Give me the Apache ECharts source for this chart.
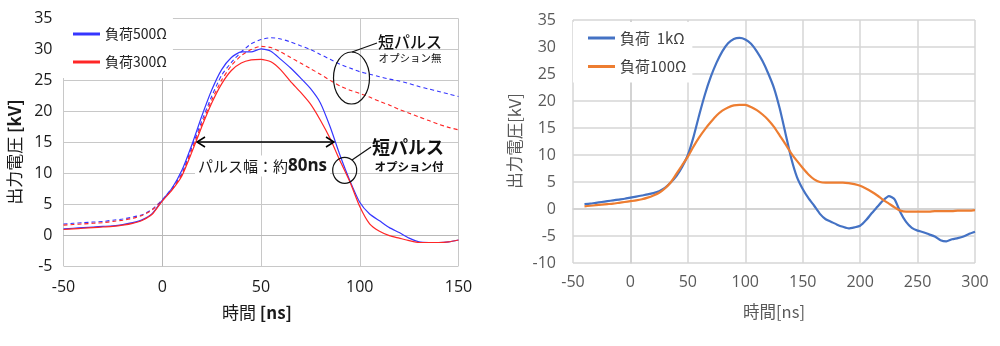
<!DOCTYPE html>
<html><head><meta charset="utf-8">
<script src="https://cdn.jsdelivr.net/npm/echarts@6/dist/echarts.min.js"></script>
<style>html,body{margin:0;padding:0;background:#fff}#c{width:1000px;height:346px}</style>
</head><body><div id="c"></div>
<script>
// ---------- Left chart data ----------
const leftTime = [-50,-45,-40,-35,-30,-25,-20,-15,-10,-5,0,5,10,15,20,25,30,35,40,45,50,55,60,65,70,75,80,85,90,95,100,105,110,115,120,125,130,135,140,145,150];
const load500On  = [1.0,1.1,1.2,1.3,1.4,1.5,1.7,2.0,2.5,3.5, 5.6,7.6,10.5,14.6,19.2,23.4,26.7,28.7,29.6,29.6, 30.1,29.7,28.4,27.0,25.4,23.7,21.4,17.5,12.9,8.8, 5.3,3.4,2.3,1.2,0.4,-0.5,-1.1,-1.2,-1.2,-1.1, -0.8];
const load500Off = [1.8,1.9,2.0,2.1,2.2,2.4,2.6,2.9,3.3,4.2, 5.7,7.6,10.0,14.2,18.4,22.4,25.8,27.9,29.6,30.9, 31.6,31.9,31.7,31.2,30.6,30.0,29.2,28.4,27.6,27.0, 26.4,26.0,25.6,25.2,24.9,24.5,24.0,23.6,23.2,22.8, 22.4];
const load300On  = [0.9,1.0,1.1,1.2,1.3,1.4,1.6,1.9,2.4,3.4, 5.5,7.3,9.6,13.4,17.5,21.3,24.4,26.6,27.8,28.3, 28.4,28.0,26.7,24.8,23.1,21.2,18.6,15.6,12.0,8.6, 4.6,1.8,0.6,-0.1,-0.5,-0.9,-1.2,-1.2,-1.2,-1.1, -0.8];
const load300Off = [1.6,1.7,1.8,1.9,2.0,2.2,2.4,2.7,3.2,4.1, 5.6,7.4,9.8,13.8,17.9,21.8,25.0,27.4,29.0,30.0, 30.5,30.3,29.6,28.7,27.8,26.9,26.0,25.0,24.1,23.4, 22.9,22.3,21.6,21.0,20.3,19.7,19.1,18.5,17.9,17.4, 17.0];
const leftXTicks = {min:-50, max:150, interval:50};
const leftYTicks = {min:-5, max:35, interval:5};
const leftNames = ['負荷500Ω','負荷300Ω'];

// ---------- Right chart data ----------
const rightTime = [-40,-35,-30,-25,-20,-15,-10,-5,0,5,10,15,20,25,30,35,40,45,50,55,60,65,70,75,80,85,90,95,100,105,110,115,120,125,130,135,140,145,150,155,160,165,170,175,180,185,190,195,200,205,210,215,220,225,230,235,240,245,250,255,260,265,270,275,280,285,290,295,300];
const load1k = [0.9,1.0,1.15,1.3,1.45,1.6,1.75,1.9,2.1,2.3,
  2.5,2.7,2.95,3.3,3.9,4.9,6.1,7.8,10.0,13.4,
  17.5,21.3,24.5,27.1,29.2,30.7,31.5,31.7,31.4,30.6,
  29.2,27.4,25.1,22.4,18.6,14.0,9.4,5.9,3.7,2.0,
  0.6,-0.9,-1.9,-2.4,-2.9,-3.3,-3.6,-3.4,-3.1,-2.1,
  -0.8,0.4,1.6,2.4,1.8,-0.6,-2.4,-3.5,-4.0,-4.3,
  -4.7,-5.1,-5.8,-6.0,-5.6,-5.4,-5.1,-4.6,-4.2];
const load100 = [0.5,0.6,0.7,0.8,0.9,1.0,1.15,1.3,1.45,1.6,
  1.8,2.1,2.5,3.0,3.8,4.9,6.5,8.1,9.7,11.6,
  13.3,14.8,16.1,17.3,18.2,18.8,19.2,19.3,19.3,18.9,
  18.3,17.5,16.5,15.2,13.6,12.0,10.3,8.9,7.6,6.4,
  5.5,5.0,4.9,4.9,4.9,4.9,4.8,4.6,4.3,3.8,
  3.2,2.5,1.7,1.0,0.3,-0.3,-0.5,-0.5,-0.5,-0.5,
  -0.5,-0.4,-0.4,-0.4,-0.4,-0.3,-0.3,-0.3,-0.2];
const rightXTicks = {min:-50, max:300, interval:50};
const rightYTicks = {min:-10, max:35, interval:5};
const rightNames = ['負荷  1kΩ','負荷100Ω'];

const pairs = (xs, ys) => xs.map((x, i) => [x, ys[i]]);
const JP = '"Noto Sans CJK JP", "Noto Sans", sans-serif';
const NUM = '"Open Sans", "Noto Sans", sans-serif';
const BLUE = '#3636ff', RED = '#ff2626';
const XL = '#4472C4', OR = '#ED7D31';

const chart = echarts.init(document.getElementById('c'), null, {renderer:'canvas'});

function lineSeries(name, xi, yi, xs, ys, color, width, dashed) {
  return {
    name, type:'line', xAxisIndex:xi, yAxisIndex:yi, data:pairs(xs, ys),
    showSymbol:false, symbol:'none', smooth:0.2,
    lineStyle:{color, width, type: dashed ? [4,3] : 'solid'},
    itemStyle:{color}, animation:false, z:3
  };
}

const option = {
  animation:false,
  grid:[
    {left:63.5, top:18.5, width:395, height:247.5, containLabel:false},
    {left:573, top:20, width:402, height:243, containLabel:false}
  ],
  xAxis:[
    {gridIndex:0, type:'value', ...leftXTicks,
     axisLine:{show:true, lineStyle:{color:'#b8b8b8', width:1}}, axisTick:{show:false},
     axisLabel:{color:'#1a1a1a', fontSize:16, fontFamily:NUM, margin:13},
     splitLine:{show:true, lineStyle:{color:'#c8c8c8', width:1}}},
    {gridIndex:1, type:'value', ...rightXTicks,
     axisLine:{show:true, lineStyle:{color:'#cfcfcf', width:1.5}}, axisTick:{show:false},
     axisLabel:{color:'#595959', fontSize:16, fontFamily:NUM, margin:11},
     splitLine:{show:true, lineStyle:{color:'#d6d6d6', width:1.5}}}
  ],
  yAxis:[
    {gridIndex:0, type:'value', ...leftYTicks,
     axisLine:{show:true, lineStyle:{color:'#b8b8b8', width:1}}, axisTick:{show:false},
     axisLabel:{color:'#1a1a1a', fontSize:16, fontFamily:NUM, margin:11},
     splitLine:{show:true, lineStyle:{color:'#c8c8c8', width:1}}},
    {gridIndex:1, type:'value', ...rightYTicks,
     axisLine:{show:true, lineStyle:{color:'#cfcfcf', width:1.5}}, axisTick:{show:false},
     axisLabel:{color:'#595959', fontSize:16, fontFamily:NUM, margin:17},
     splitLine:{show:true, lineStyle:{color:'#d6d6d6', width:1.5}}}
  ],
  legend:[
    {data:leftNames, orient:'vertical', left:63, top:18, itemWidth:27, itemHeight:3, icon:'rect',
     itemGap:12, padding:[8,6,8,10], backgroundColor:'#fff',
     textStyle:{fontSize:14, fontFamily:JP, color:'#222', lineHeight:16}},
    {data:rightNames, orient:'vertical', left:573, top:22, itemWidth:27, itemHeight:3, icon:'rect',
     itemGap:12.5, padding:[8,6,8,15], backgroundColor:'#fff',
     textStyle:{fontSize:15, fontFamily:JP, color:'#404040', lineHeight:16}}
  ],
  series:[
    lineSeries('500無', 0,0, leftTime, load500Off, BLUE, 1.1, true),
    lineSeries('300無', 0,0, leftTime, load300Off, RED, 1.1, true),
    lineSeries(leftNames[0], 0,0, leftTime, load500On, BLUE, 1.2, false),
    lineSeries(leftNames[1], 0,0, leftTime, load300On, RED, 1.2, false),
    lineSeries(rightNames[0], 1,1, rightTime, load1k, XL, 2.2, false),
    lineSeries(rightNames[1], 1,1, rightTime, load100, OR, 2.2, false)
  ],
  graphic:[
    // axis titles
    {type:'text', x:15, y:152, rotation:Math.PI/2, z:10,
     style:{text:'出力電圧 {b|[kV]}', font:'17px '+JP, fill:'#1a1a1a', align:'center', verticalAlign:'middle',
            rich:{b:{font:'bold 17px '+JP, fill:'#1a1a1a'}}}},
    {type:'text', x:257, y:313, z:10,
     style:{text:'時間 {b|[ns]}', font:'17px '+JP, fill:'#1a1a1a', align:'center', verticalAlign:'middle',
            rich:{b:{font:'bold 17px '+JP, fill:'#1a1a1a'}}}},
    {type:'text', x:515, y:141, rotation:Math.PI/2, z:10,
     style:{text:'出力電圧[kV]', font:'16.5px '+JP, fill:'#595959', align:'center', verticalAlign:'middle'}},
    {type:'text', x:774, y:312, z:10,
     style:{text:'時間[ns]', font:'16.5px '+JP, fill:'#595959', align:'center', verticalAlign:'middle'}},
    // pulse width arrow
    {type:'line', z:10, shape:{x1:197, y1:142, x2:334, y2:142}, style:{stroke:'#000', lineWidth:1.5}},
    {type:'polyline', z:10, shape:{points:[[205,137],[197,142],[205,147]]}, style:{stroke:'#000', lineWidth:1.5, fill:null}},
    {type:'polyline', z:10, shape:{points:[[326,137],[334,142],[326,147]]}, style:{stroke:'#000', lineWidth:1.5, fill:null}},
    {type:'text', x:195, y:166, z:9,
     style:{text:'{a|パルス幅：約}{b|80ns}', verticalAlign:'middle', align:'left',
            backgroundColor:'#fff', padding:[2,3,2,3],
            rich:{a:{font:'15px '+JP, fill:'#1a1a1a'}, b:{font:'bold 17px '+NUM, fill:'#1a1a1a'}}}},
    // ellipse 1 (without option)
    {type:'ellipse', z:10, shape:{cx:351.5, cy:78, rx:18, ry:26}, style:{stroke:'#111', lineWidth:1.2, fill:null}},
    {type:'line', z:10, shape:{x1:352, y1:52, x2:377, y2:43}, style:{stroke:'#111', lineWidth:1.2}},
    {type:'text', x:410, y:42, z:10,
     style:{text:'短パルス', font:'500 16px '+JP, fill:'#111', align:'center', verticalAlign:'middle'}},
    {type:'text', x:410, y:58, z:10,
     style:{text:'オプション無', font:'10.5px '+JP, fill:'#111', align:'center', verticalAlign:'middle'}},
    // ellipse 2 (with option)
    {type:'ellipse', z:10, shape:{cx:344.7, cy:170.3, rx:12, ry:13}, style:{stroke:'#111', lineWidth:1.2, fill:null}},
    {type:'line', z:10, shape:{x1:352, y1:160, x2:371, y2:147}, style:{stroke:'#111', lineWidth:1.2}},
    {type:'text', x:408, y:147, z:10,
     style:{text:'短パルス', font:'bold 18px '+JP, fill:'#111', align:'center', verticalAlign:'middle'}},
    {type:'text', x:409, y:167, z:10,
     style:{text:'オプション付', font:'bold 11.5px '+JP, fill:'#111', align:'center', verticalAlign:'middle'}}
  ]
};
chart.setOption(option);
</script></body></html>
